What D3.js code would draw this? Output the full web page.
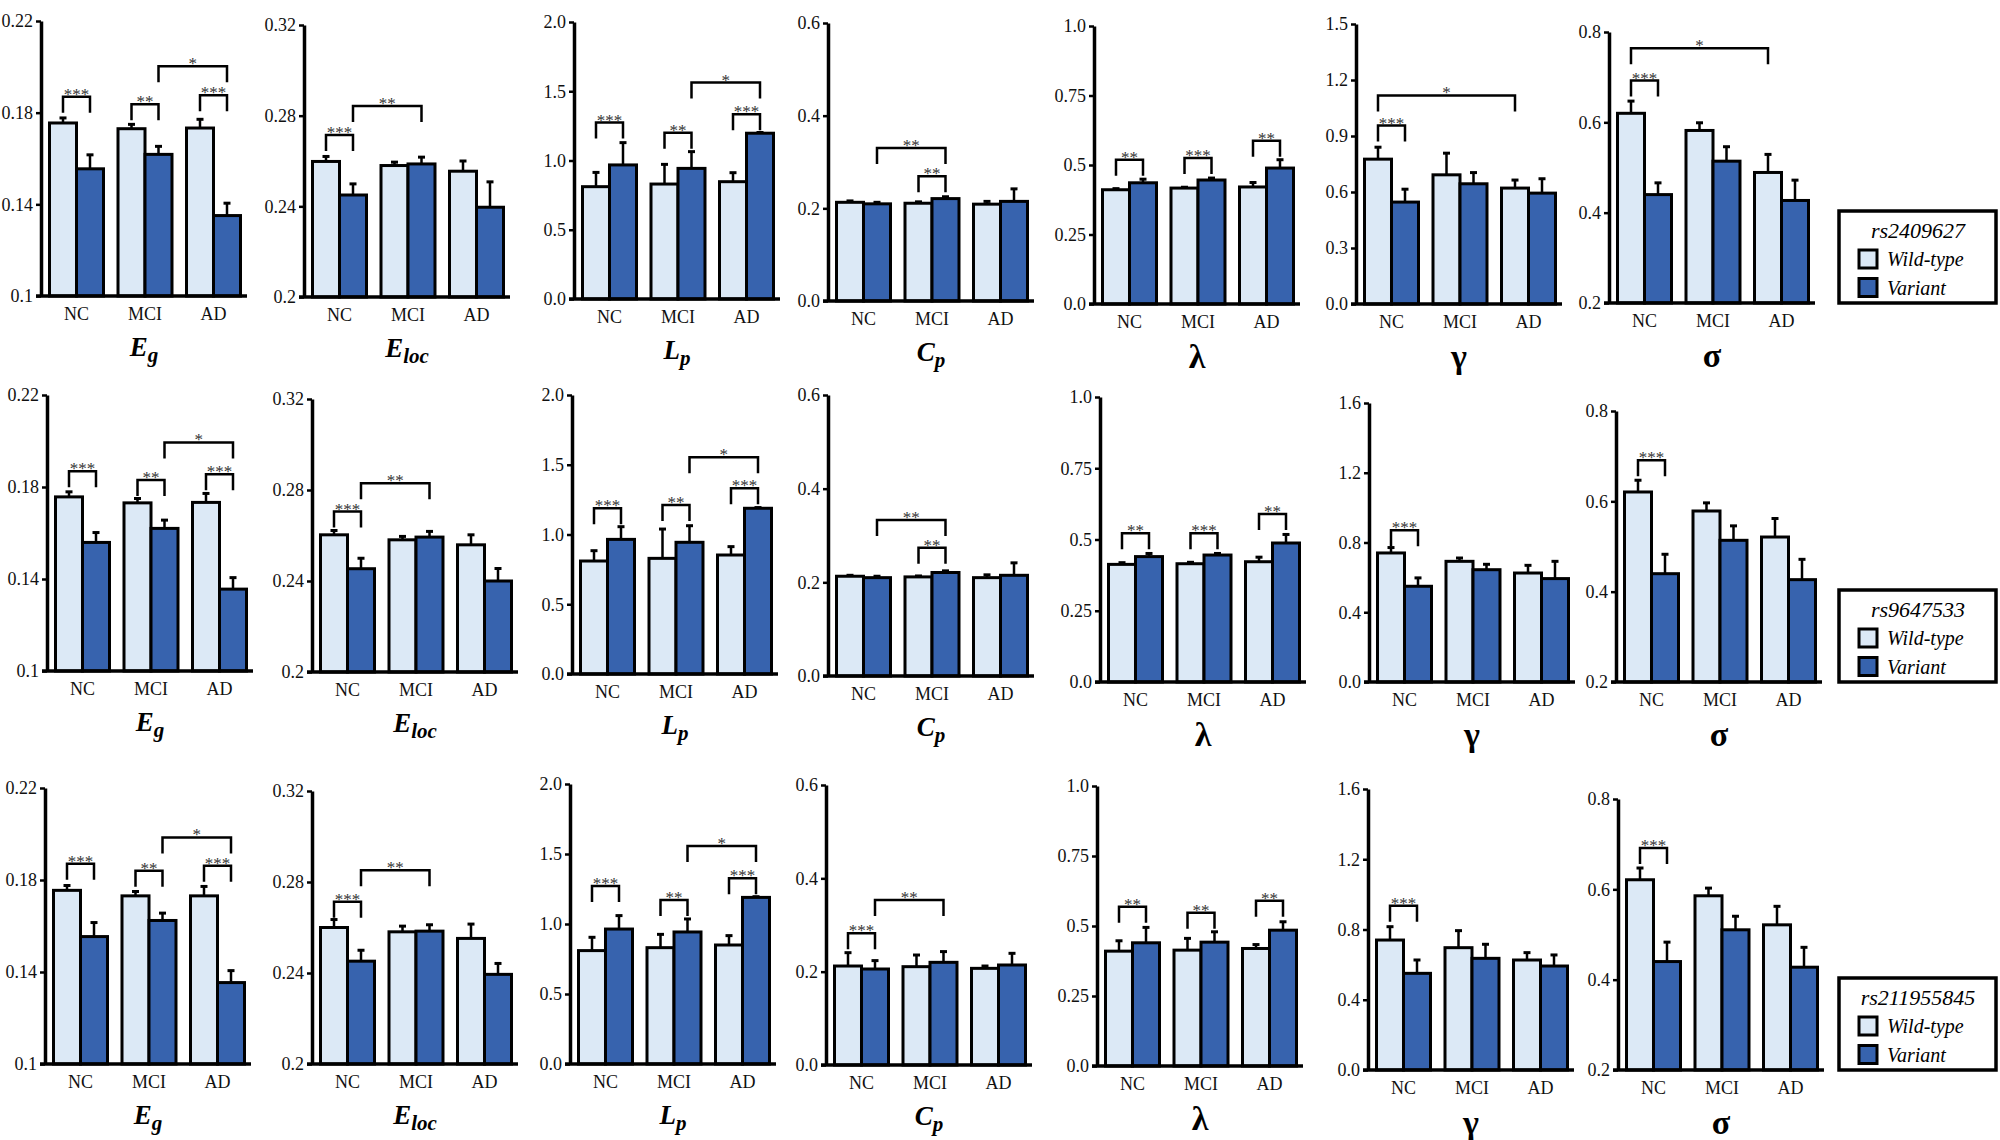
<!DOCTYPE html>
<html>
<head>
<meta charset="utf-8">
<script src="https://cdn.jsdelivr.net/npm/d3@7"></script>
<style>
  body { margin: 0; background: #ffffff; }
  text { font-family: "Liberation Serif", "Times New Roman", serif; }
</style>
</head>
<body>
<script>
// ---- data ----
var groups = ["NC", "MCI", "AD"];
var seriesNames = ["Wild-type", "Variant"];
var snps = ["rs2409627", "rs9647533", "rs211955845"];

// metric order: Eg, Eloc, Lp, Cp, lambda, gamma, sigma
var egTicks = [0.1, 0.14, 0.18, 0.22];
var elocTicks = [0.2, 0.24, 0.28, 0.32];
var lpTicks = [0, 0.5, 1.0, 1.5, 2.0];
var cpTicks = [0, 0.2, 0.4, 0.6];
var lambdaTicks = [0, 0.25, 0.5, 0.75, 1.0];
var gammaTicksA = [0, 0.3, 0.6, 0.9, 1.2, 1.5];
var gammaTicksB = [0, 0.4, 0.8, 1.2, 1.6];
var sigmaTicks = [0.2, 0.4, 0.6, 0.8];

var egLabels = ["0.1", "0.14", "0.18", "0.22"];
var elocLabels = ["0.2", "0.24", "0.28", "0.32"];
var lpLabels = ["0.0", "0.5", "1.0", "1.5", "2.0"];
var cpLabels = ["0.0", "0.2", "0.4", "0.6"];
var lambdaLabels = ["0.0", "0.25", "0.5", "0.75", "1.0"];
var gammaLabelsA = ["0.0", "0.3", "0.6", "0.9", "1.2", "1.5"];
var gammaLabelsB = ["0.0", "0.4", "0.8", "1.2", "1.6"];
var sigmaLabels = ["0.2", "0.4", "0.6", "0.8"];

// row 1 : rs2409627
var wild1 = [[0.1755, 0.1730, 0.1733], [0.2598, 0.2580, 0.2555], [0.811, 0.830, 0.847], [0.213, 0.211, 0.209],
             [0.411, 0.417, 0.421], [0.776, 0.692, 0.621], [0.620, 0.582, 0.489]];
var wildSe1 = [[0.0022, 0.0019, 0.0038], [0.0022, 0.0015, 0.0045], [0.103, 0.142, 0.065], [0.003, 0.003, 0.006],
               [0.004, 0.003, 0.016], [0.064, 0.116, 0.043], [0.027, 0.017, 0.040]];
var variant1 = [[0.1555, 0.1618, 0.1351], [0.2450, 0.2587, 0.2396], [0.968, 0.943, 1.197], [0.2097, 0.221, 0.215],
                [0.436, 0.446, 0.489], [0.546, 0.644, 0.594], [0.440, 0.514, 0.427]];
var variantSe1 = [[0.0061, 0.0035, 0.0054], [0.0049, 0.0030, 0.0112], [0.161, 0.121, 0.005], [0.0033, 0.004, 0.027],
                  [0.013, 0.007, 0.030], [0.069, 0.060, 0.077], [0.026, 0.032, 0.045]];

// row 2 : rs9647533
var wild2 = [[0.1757, 0.1731, 0.1733], [0.2603, 0.2581, 0.2559], [0.810, 0.829, 0.853], [0.213, 0.2116, 0.210],
             [0.4127, 0.415, 0.422], [0.740, 0.692, 0.625], [0.6207, 0.5786, 0.521]];
var wildSe2 = [[0.0022, 0.0019, 0.0039], [0.0019, 0.0015, 0.0044], [0.074, 0.210, 0.060], [0.002, 0.002, 0.006],
               [0.006, 0.005, 0.016], [0.031, 0.019, 0.044], [0.026, 0.018, 0.041]];
var variant2 = [[0.1559, 0.1620, 0.1356], [0.2454, 0.2593, 0.2400], [0.965, 0.944, 1.188], [0.210, 0.221, 0.215],
                [0.440, 0.4455, 0.4877], [0.549, 0.644, 0.593], [0.4398, 0.5137, 0.4266]];
var variantSe2 = [[0.0043, 0.0036, 0.0050], [0.0046, 0.0025, 0.0055], [0.091, 0.119, 0.005], [0.003, 0.0035, 0.0266],
                  [0.011, 0.0055, 0.030], [0.048, 0.031, 0.099], [0.043, 0.032, 0.045]];

// row 3 : rs211955845
var wild3 = [[0.1755, 0.1731, 0.1731], [0.2600, 0.2581, 0.2552], [0.810, 0.831, 0.850], [0.2121, 0.2107, 0.2071],
             [0.4102, 0.4138, 0.4197], [0.740, 0.6965, 0.6263], [0.6212, 0.5857, 0.5214]];
var wildSe3 = [[0.0021, 0.0019, 0.0041], [0.0035, 0.0025, 0.0063], [0.095, 0.095, 0.067], [0.0286, 0.025, 0.005],
               [0.037, 0.042, 0.014], [0.076, 0.097, 0.042], [0.026, 0.017, 0.041]];
var variant3 = [[0.1554, 0.1624, 0.1354], [0.2452, 0.2584, 0.2394], [0.964, 0.943, 1.190], [0.2057, 0.220, 0.2143],
                [0.440, 0.4423, 0.4851], [0.5504, 0.6358, 0.5921], [0.4401, 0.5104, 0.4276]];
var variantSe3 = [[0.0061, 0.0032, 0.0052], [0.0048, 0.0028, 0.0048], [0.096, 0.093, 0.005], [0.018, 0.023, 0.025],
                  [0.055, 0.037, 0.030], [0.076, 0.080, 0.063], [0.043, 0.030, 0.044]];

// significance brackets: [from bar, to bar, level, stars]; bars 0..5 = NC wt, NC var, MCI wt, MCI var, AD wt, AD var
var sig1 = [
  [[0, 1, 0.1869, "***"], [2, 3, 0.1837, "**"], [4, 5, 0.1876, "***"], [3, 5, 0.2003, "*"]],
  [[0, 1, 0.2715, "***"], [1, 3, 0.2843, "**"]],
  [[0, 1, 1.274, "***"], [2, 3, 1.200, "**"], [4, 5, 1.334, "***"], [3, 5, 1.563, "*"]],
  [[1, 3, 0.330, "**"], [2, 3, 0.269, "**"]],
  [[0, 1, 0.519, "**"], [2, 3, 0.525, "***"], [4, 5, 0.587, "**"]],
  [[0, 1, 0.956, "***"], [0, 4, 1.117, "*"]],
  [[0, 1, 0.6926, "***"], [0, 4, 0.764, "*"]]
];
var sig2 = [
  [[0, 1, 0.1869, "***"], [2, 3, 0.1830, "**"], [4, 5, 0.1855, "***"], [3, 5, 0.1994, "*"]],
  [[0, 1, 0.2705, "***"], [1, 3, 0.2830, "**"]],
  [[0, 1, 1.188, "***"], [2, 3, 1.211, "**"], [4, 5, 1.331, "***"], [3, 5, 1.553, "*"]],
  [[1, 3, 0.333, "**"], [2, 3, 0.274, "**"]],
  [[0, 1, 0.5217, "**"], [2, 3, 0.5217, "***"], [4, 5, 0.5897, "**"]],
  [[0, 1, 0.870, "***"]],
  [[0, 1, 0.6908, "***"]]
];
var sig3 = [
  [[0, 1, 0.1871, "***"], [2, 3, 0.1840, "**"], [4, 5, 0.1862, "***"], [3, 5, 0.1985, "*"]],
  [[0, 1, 0.2713, "***"], [1, 3, 0.2852, "**"]],
  [[0, 1, 1.271, "***"], [2, 3, 1.171, "**"], [4, 5, 1.326, "***"], [3, 5, 1.557, "*"]],
  [[0, 1, 0.2821, "***"], [1, 3, 0.3536, "**"]],
  [[0, 1, 0.5684, "**"], [2, 3, 0.547, "**"], [4, 5, 0.5898, "**"]],
  [[0, 1, 0.9357, "***"]],
  [[0, 1, 0.6914, "***"]]
];

// ---- layout (pixel positions of each panel's axes) ----
var axisX = [[41, 304, 574, 828, 1094, 1356, 1609],
             [47, 312, 572, 828, 1100, 1369, 1616],
             [45, 312, 570, 826, 1097, 1368, 1618]];
var axisTop = [[21, 25, 22, 23, 26, 24, 32],
               [395, 399, 395, 395, 397, 403, 411],
               [788, 791, 784, 785, 786, 789, 799]];
var axisBottom = [[296, 297, 299, 301, 304, 304, 303],
                  [671, 672, 674, 676, 682, 682, 682],
                  [1064, 1064, 1064, 1065, 1066, 1070, 1070]];

var wildColour = "#dce9f6";
var variantColour = "#3763ae";
var lineColour = "#000000";

var rows = [
  { snp: snps[0], wild: wild1, wildSe: wildSe1, variant: variant1, variantSe: variantSe1, sig: sig1 },
  { snp: snps[1], wild: wild2, wildSe: wildSe2, variant: variant2, variantSe: variantSe2, sig: sig2 },
  { snp: snps[2], wild: wild3, wildSe: wildSe3, variant: variant3, variantSe: variantSe3, sig: sig3 }
];

function metricTicks(r, m) {
  return [egTicks, elocTicks, lpTicks, cpTicks, lambdaTicks, r === 0 ? gammaTicksA : gammaTicksB, sigmaTicks][m];
}
function metricLabels(r, m) {
  return [egLabels, elocLabels, lpLabels, cpLabels, lambdaLabels, r === 0 ? gammaLabelsA : gammaLabelsB, sigmaLabels][m];
}
// main letter + subscript for the panel titles
var titleMain = ["E", "E", "L", "C", "\u03bb", "\u03b3", "\u03c3"];
var titleSub = ["g", "loc", "p", "p", "", "", ""];

var holder = d3.select("body")
  .append("svg")
  .attr("width", 2000)
  .attr("height", 1140);

holder.append("rect")
  .attr("width", 2000).attr("height", 1140)
  .style("fill", "#ffffff");

function drawPanel(r, m) {
  var row = rows[r];
  var ax = axisX[r][m], top = axisTop[r][m], bottom = axisBottom[r][m];
  var ticks = metricTicks(r, m), labels = metricLabels(r, m);

  var y = d3.scaleLinear()
    .domain([ticks[0], ticks[ticks.length - 1]])
    .range([bottom, top]);

  var xG = d3.scaleBand()
    .domain(groups)
    .range([ax + 8.5, ax + 199.5])
    .paddingInner(0.2117)
    .paddingOuter(0);
  var xS = d3.scaleBand()
    .domain([0, 1])
    .range([0, xG.bandwidth()]);

  var g = holder.append("g");

  var bars = [];
  groups.forEach(function (grp, i) {
    bars.push({ grp: grp, s: 0, v: row.wild[m][i], e: row.wildSe[m][i] });
    bars.push({ grp: grp, s: 1, v: row.variant[m][i], e: row.variantSe[m][i] });
  });
  function barCentre(idx) {
    return xG(groups[Math.floor(idx / 2)]) + xS(idx % 2) + xS.bandwidth() / 2;
  }

  // error bars (upper half only, drawn behind the outline)
  g.selectAll(".err")
    .data(bars)
    .enter().append("line")
    .attr("x1", function (d, i) { return barCentre(i); })
    .attr("x2", function (d, i) { return barCentre(i); })
    .attr("y1", function (d) { return y(d.v); })
    .attr("y2", function (d) { return y(d.v + d.e); })
    .attr("stroke", lineColour)
    .attr("stroke-width", 2.5);
  g.selectAll(".cap")
    .data(bars)
    .enter().append("line")
    .attr("x1", function (d, i) { return barCentre(i) - 3.5; })
    .attr("x2", function (d, i) { return barCentre(i) + 3.5; })
    .attr("y1", function (d) { return y(d.v + d.e); })
    .attr("y2", function (d) { return y(d.v + d.e); })
    .attr("stroke", lineColour)
    .attr("stroke-width", 3);

  // bars
  g.selectAll(".bar")
    .data(bars)
    .enter().append("rect")
    .attr("x", function (d) { return xG(d.grp) + xS(d.s); })
    .attr("width", xS.bandwidth())
    .attr("y", function (d) { return y(d.v); })
    .attr("height", function (d) { return y(ticks[0]) - y(d.v); })
    .style("fill", function (d) { return d.s === 0 ? wildColour : variantColour; })
    .style("stroke", lineColour)
    .style("stroke-width", 3);

  // y axis
  var yAxis = d3.axisLeft(y)
    .tickValues(ticks)
    .tickFormat(function (d, i) { return labels[i]; })
    .tickSize(5)
    .tickSizeOuter(0)
    .tickPadding(3);
  var ya = g.append("g")
    .attr("transform", "translate(" + ax + ",0)")
    .call(yAxis);
  ya.select(".domain").attr("stroke-width", 3.5);
  ya.selectAll(".tick line").attr("stroke-width", 2.5);
  ya.selectAll(".tick text")
    .style("font-family", "'Liberation Serif', serif")
    .style("font-size", "18px")
    .attr("fill", "#111");

  // x axis line
  g.append("line")
    .attr("x1", ax - 5).attr("x2", ax + 206)
    .attr("y1", bottom).attr("y2", bottom)
    .attr("stroke", lineColour)
    .attr("stroke-width", 3.5);

  // category labels
  g.selectAll(".cat")
    .data(groups)
    .enter().append("text")
    .attr("x", function (d) { return xG(d) + xG.bandwidth() / 2; })
    .attr("y", bottom + 24)
    .attr("text-anchor", "middle")
    .style("font-size", "18px")
    .style("fill", "#111")
    .text(function (d) { return d; });

  // significance brackets
  row.sig[m].forEach(function (s) {
    var x1 = barCentre(s[0]), x2 = barCentre(s[1]), yy = y(s[2]);
    g.append("path")
      .attr("d", "M" + x1 + "," + (yy + 16) + "V" + yy + "H" + x2 + "V" + (yy + 16))
      .attr("fill", "none")
      .attr("stroke", lineColour)
      .attr("stroke-width", 2.5);
    g.append("text")
      .attr("x", (x1 + x2) / 2)
      .attr("y", yy + 3)
      .attr("text-anchor", "middle")
      .style("font-size", "17px")
      .style("fill", "#333")
      .text(s[3]);
  });

  // panel title
  var title = g.append("text")
    .attr("x", ax + 103)
    .attr("text-anchor", "middle")
    .style("font-weight", "bold");
  if (titleSub[m] !== "") {
    title.attr("y", bottom + 60).style("font-style", "italic");
    title.append("tspan").style("font-size", "27px").text(titleMain[m]);
    title.append("tspan").style("font-size", "21px").attr("dy", 6).text(titleSub[m]);
  } else {
    title.attr("y", bottom + 64)
      .style("font-size", "34px")
      .text(titleMain[m]);
  }
}

function drawLegend(r) {
  var left = 1839, bottom = axisBottom[r][6], top = bottom - 92;
  var lg = holder.append("g");
  lg.append("rect")
    .attr("x", left).attr("y", top)
    .attr("width", 157).attr("height", 92)
    .style("fill", "#ffffff")
    .style("stroke", lineColour)
    .style("stroke-width", 3.5);
  lg.append("text")
    .attr("x", left + 79).attr("y", top + 27)
    .attr("text-anchor", "middle")
    .style("font-style", "italic")
    .style("font-size", "22px")
    .text(rows[r].snp);
  lg.selectAll(".key")
    .data(seriesNames)
    .enter().append("rect")
    .attr("x", left + 20)
    .attr("y", function (d, i) { return top + 39 + i * 28.5; })
    .attr("width", 18).attr("height", 18)
    .style("fill", function (d, i) { return i === 0 ? wildColour : variantColour; })
    .style("stroke", lineColour)
    .style("stroke-width", 3);
  lg.selectAll(".keytext")
    .data(seriesNames)
    .enter().append("text")
    .attr("x", left + 48)
    .attr("y", function (d, i) { return top + 55 + i * 28.5; })
    .style("font-style", "italic")
    .style("font-size", "20px")
    .text(function (d) { return d; });
}

for (var r = 0; r < 3; r++) {
  for (var m = 0; m < 7; m++) drawPanel(r, m);
  drawLegend(r);
}
</script>
</body>
</html>
